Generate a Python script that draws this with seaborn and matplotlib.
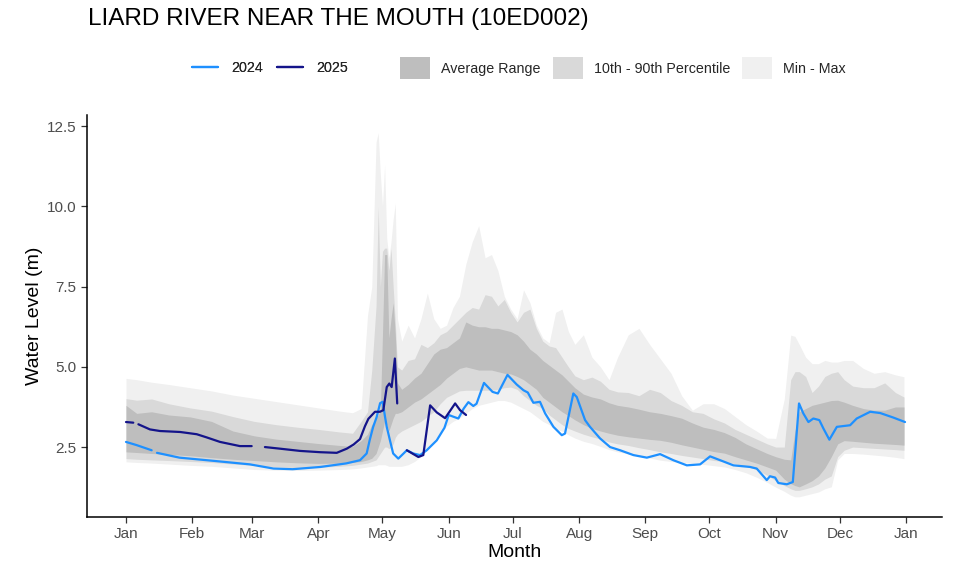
import numpy as np
import pandas as pd
import seaborn as sns
import matplotlib
matplotlib.use("Agg")
import matplotlib.pyplot as plt
from matplotlib.lines import Line2D
from matplotlib.patches import Patch

nan = np.nan

# historical bands (day of year, metres)
band_days = [0, 5, 12, 20, 30, 40, 50, 60, 70, 80, 90, 100, 106,
             110, 113, 115, 117, 118, 119, 120, 121, 122, 123, 124, 125, 126, 127,
             129, 132, 135, 138, 141, 144, 147, 150, 153, 156, 159, 162, 165, 168,
             171, 174, 177, 180, 183, 186, 189, 192, 195,
             198, 201, 204, 207, 210, 214, 218, 222, 226, 230,
             235, 240, 245, 250, 255, 260, 265, 270, 275, 280, 285, 290, 295, 300,
             304, 308, 311, 313, 315, 318, 321, 324, 327, 330, 333, 336,
             340, 345, 350, 355, 360, 364]

band_max = [4.64, 4.60, 4.52, 4.45, 4.35, 4.25, 4.12, 4.02, 3.92, 3.82, 3.72, 3.62, 3.57,
            3.70, 6.60, 7.50, 12.00, 12.30, 11.00, 10.00, 11.30, 9.00, 8.40, 8.90, 9.60, 10.10, 6.50,
            5.8, 6.3, 5.9, 6.5, 7.3, 6.5, 6.2, 6.3, 6.85, 7.2, 8.2, 8.9, 9.4, 8.4,
            8.5, 8.0, 7.2, 6.8, 6.5, 7.4, 7.0, 6.3, 5.9,
            5.75, 6.7, 6.8, 6.1, 5.7, 6.0, 5.3, 5.0, 4.6, 5.3,
            6.0, 6.2, 5.7, 5.25, 4.8, 4.1, 3.65, 3.85, 3.85, 3.7, 3.45, 3.2, 3.0, 2.78,
            2.77, 4.0, 5.99, 5.95, 5.7, 5.3, 5.1, 5.1, 5.2, 5.15, 5.15, 5.2,
            5.2, 4.95, 4.8, 4.85, 4.75, 4.69]

band_p90 = [4.01, 3.96, 4.00, 3.85, 3.72, 3.62, 3.45, 3.30, 3.20, 3.12, 3.05, 2.97, 2.93,
            3.30, 3.60, 4.90, 6.90, 10.00, 7.50, 8.60, 8.70, 8.70, 8.00, 8.70, 7.50, 6.40, 5.00,
            4.9, 5.2, 5.25, 5.7, 5.6, 5.75, 6.0, 6.1, 6.3, 6.5, 6.7, 6.85, 6.8, 7.25,
            7.2, 6.9, 7.1, 6.7, 6.4, 6.7, 6.8, 6.2, 5.8,
            5.65, 5.6, 5.3, 5.0, 4.72, 4.6, 4.68, 4.55, 4.3, 4.22,
            4.2, 4.1, 4.3, 4.2, 3.95, 3.8, 3.6, 3.55, 3.38, 3.25, 3.05, 2.9, 2.75, 2.6,
            2.5, 2.5, 4.6, 4.85, 4.85, 4.7, 4.2, 4.4, 4.7, 4.8, 4.85, 4.6,
            4.4, 4.35, 4.35, 4.5, 4.2, 4.06]

band_p75 = [3.80, 3.55, 3.60, 3.50, 3.44, 3.30, 3.00, 2.85, 2.75, 2.68, 2.61, 2.55, 2.52,
            2.70, 2.90, 3.20, 3.40, 3.50, 3.65, 6.00, 8.50, 8.50, 5.90, 6.50, 7.00, 6.00, 4.50,
            4.3, 4.45, 4.65, 4.8, 5.1, 5.4, 5.55, 5.6, 5.75, 5.9, 6.4, 6.3, 6.25, 6.25,
            6.2, 6.2, 6.15, 6.1, 6.0, 5.8, 5.55, 5.4, 5.2,
            5.05, 4.9, 4.75, 4.55, 4.35, 4.15, 4.06, 4.0, 3.88, 3.8,
            3.75, 3.68, 3.6, 3.55, 3.48, 3.4, 3.25, 3.12, 3.05, 2.95, 2.8, 2.6, 2.45, 2.3,
            2.2, 2.12, 2.1, 3.0, 3.6, 3.7, 3.8, 3.85, 3.9, 3.95, 3.96, 3.9,
            3.8, 3.7, 3.65, 3.65, 3.75, 3.75]

band_p25 = [2.35, 2.33, 2.30, 2.27, 2.23, 2.17, 2.12, 2.08, 2.04, 2.01, 1.99, 2.00, 2.02,
            2.05, 2.10, 2.15, 2.30, 2.50, 2.70, 3.00, 3.30, 3.20, 3.00, 3.20, 3.40, 3.55, 3.55,
            3.6, 3.75, 3.9, 4.0, 4.15, 4.3, 4.45, 4.65, 4.8, 4.95, 5.0, 4.95, 4.9, 4.9,
            4.9, 4.85, 4.8, 4.78, 4.7, 4.6, 4.45, 4.3, 4.05,
            3.9, 3.75, 3.6, 3.48, 3.35, 3.2, 3.08, 3.0, 2.93, 2.87,
            2.82, 2.78, 2.74, 2.71, 2.65, 2.57, 2.5, 2.43, 2.36, 2.31, 2.2, 2.1, 2.0, 1.88,
            1.78, 1.5, 1.36, 1.3, 1.26, 1.35, 1.45, 1.6, 1.85, 2.2, 2.6, 2.7,
            2.68, 2.65, 2.62, 2.6, 2.58, 2.56]

band_p10 = [2.14, 2.12, 2.10, 2.08, 2.05, 2.02, 1.97, 1.93, 1.88, 1.86, 1.87, 1.90, 1.93,
            1.97, 2.00, 2.05, 2.10, 2.20, 2.30, 2.40, 2.50, 2.50, 2.45, 2.50, 2.60, 2.80, 2.90,
            3.0, 3.1, 3.2, 3.3, 3.45, 3.6, 3.85, 4.05, 4.15, 4.25, 4.27, 4.27, 4.27, 4.27,
            4.27, 4.3, 4.35, 4.37, 4.3, 4.1, 3.95, 3.8, 3.7,
            3.5, 3.35, 3.2, 3.08, 3.0, 2.9, 2.82, 2.75, 2.66, 2.6,
            2.55, 2.48, 2.42, 2.35, 2.3, 2.24, 2.19, 2.14, 2.08, 2.05, 1.98, 1.9, 1.8, 1.62,
            1.45, 1.3, 1.2, 1.15, 1.15, 1.2, 1.26, 1.35, 1.5, 1.6, 2.2, 2.4,
            2.5, 2.48, 2.46, 2.44, 2.42, 2.40]

band_min = [2.04, 2.02, 2.00, 1.97, 1.93, 1.90, 1.85, 1.80, 1.78, 1.77, 1.78, 1.80, 1.82,
            1.85, 1.88, 1.90, 1.92, 1.95, 1.95, 1.95, 1.95, 1.93, 1.90, 1.90, 1.90, 1.90, 1.90,
            1.9, 1.95, 2.05, 2.2, 2.45, 2.7, 2.95, 3.15, 3.3, 3.4, 3.55, 3.7, 3.8, 3.85,
            3.9, 3.95, 3.95, 3.9, 3.8, 3.7, 3.6, 3.45, 3.3,
            3.2, 3.05, 3.0, 2.88, 2.78, 2.68, 2.61, 2.52, 2.42, 2.35,
            2.29, 2.22, 2.16, 2.09, 2.05, 2.02, 1.99, 1.96, 1.92, 1.88, 1.8, 1.7, 1.56, 1.4,
            1.25, 1.12, 1.0, 0.95, 0.95, 1.0, 1.05, 1.1, 1.2, 1.26, 2.1, 2.3,
            2.3, 2.28, 2.25, 2.22, 2.18, 2.14]

# 2024 and 2025 water level
days_2024 = [0, 5, 12, 13, 14.5, 25, 41, 58, 69, 78, 91, 103, 109.5, 112.6, 114, 115.6,
             117.3, 118.9, 120.1, 121.2, 122, 123.5, 125, 127.4, 131.4, 134.4, 137.6,
             140.7, 145.4, 149, 151, 153, 155.5, 158, 160.2, 162.5, 164, 167.5, 171.5,
             174, 178.5, 182.8, 186, 188, 190.6, 193.7, 196.1, 200, 203.9, 205.4, 209.3,
             210.9, 214.8, 217.1, 221.8, 226.5, 231.2, 237.4, 243.7, 249.9, 256.1, 262.4,
             268.6, 273.3, 278, 284.2, 292, 295.1, 299.8, 301.3, 303.7, 305.2, 309.2, 312,
             314.9, 316.9, 319.3, 321.6, 324.4, 326.3, 329.1, 332.6, 338.8, 341.9, 348.2,
             352.9, 359, 364.5]
level_2024 = [2.66, 2.56, 2.40, nan, 2.32, 2.17, 2.07, 1.96, 1.83, 1.81, 1.88, 1.99, 2.09,
              2.30, 2.71, 3.12, 3.44, 3.87, 3.91, 3.44, 3.13, 2.71, 2.30, 2.14, 2.40, 2.30,
              2.25, 2.40, 2.71, 3.10, 3.50, 3.45, 3.39, 3.70, 3.90, 3.78, 3.85, 4.50, 4.22,
              4.17, 4.75, 4.45, 4.27, 4.20, 3.88, 3.91, 3.55, 3.13, 2.87, 2.92, 4.17, 4.06,
              3.34, 3.13, 2.77, 2.50, 2.40, 2.25, 2.17, 2.28, 2.09, 1.93, 1.96, 2.21, 2.09,
              1.93, 1.88, 1.83, 1.47, 1.59, 1.55, 1.38, 1.34, 1.41, 3.86, 3.55, 3.28, 3.39,
              3.34, 3.08, 2.73, 3.13, 3.18, 3.39, 3.60, 3.56, 3.42, 3.28]

days_2025 = [0, 3.4, 4.5, 5.8, 11.2, 15.9, 25.3, 33.1, 37.8, 44, 53.3, 58.8, 62, 65, 72,
             81.4, 90.8, 98.6, 103.3, 106.5, 109.5, 111.8, 113.4, 116.5, 118.8, 120.4, 122,
             123.2, 124.3, 125.8, 126.9, 129, 131.4, 136.8, 139.1, 142.3, 145.4, 149.3,
             154, 156.3, 159.1]
level_2025 = [3.28, 3.26, nan, 3.21, 3.05, 3.00, 2.97, 2.90, 2.80, 2.66, 2.53, 2.53, nan,
              2.50, 2.45, 2.38, 2.34, 2.32, 2.45, 2.58, 2.75, 3.15, 3.38, 3.60, 3.60, 3.65,
              4.37, 4.48, 4.37, 5.26, 3.86, nan, 2.40, 2.19, 2.25, 3.80, 3.58, 3.40, 3.86,
              3.65, 3.50]

month_days = [0, 31, 59, 90, 120, 151, 181, 212, 243, 273, 304, 334, 365]
month_labels = ["Jan", "Feb", "Mar", "Apr", "May", "Jun", "Jul", "Aug", "Sep", "Oct",
                "Nov", "Dec", "Jan"]

col_2024 = "#1E90FF"
col_2025 = "#14148A"
col_avg = "#BEBEBE"
col_p10 = "#D9D9D9"
col_mm = "#F0F0F0"


def segments(days, vals, name):
    df = pd.DataFrame({"day": days, "level": vals})
    df["seg"] = df["level"].isna().cumsum()
    df = df.dropna()
    df["year"] = name
    return df


sns.set_theme(style="white")
plt.rcParams["font.family"] = ["Liberation Sans", "DejaVu Sans"]

fig = plt.figure(figsize=(9.6, 5.79), dpi=100)
ax = fig.add_axes([87 / 960, 1 - 517 / 579, 855 / 960, 402 / 579])

ax.fill_between(band_days, band_min, band_max, color=col_mm, linewidth=0)
ax.fill_between(band_days, band_p10, band_p90, color=col_p10, linewidth=0)
ax.fill_between(band_days, band_p25, band_p75, color=col_avg, linewidth=0)

d24 = segments(days_2024, level_2024, "2024")
d25 = segments(days_2025, level_2025, "2025")
sns.lineplot(data=d24, x="day", y="level", units="seg", estimator=None, sort=False,
             color=col_2024, linewidth=1.6, ax=ax)
sns.lineplot(data=d25, x="day", y="level", units="seg", estimator=None, sort=False,
             color=col_2025, linewidth=1.6, ax=ax)

ax.set_xlim(-18.25, 381.8)
ax.set_ylim(0.32, 12.85)
ax.set_xticks(month_days)
ax.set_xticklabels(month_labels)
ax.set_yticks([2.5, 5.0, 7.5, 10.0, 12.5])
ax.set_yticklabels(["2.5", "5.0", "7.5", "10.0", "12.5"])
ax.tick_params(axis="both", labelsize=11, labelcolor="#4D4D4D", color="#333333",
               length=4.5, width=0.9, pad=3, bottom=True, left=True)
for side in ["top", "right"]:
    ax.spines[side].set_visible(False)
for side in ["left", "bottom"]:
    ax.spines[side].set_color("black")
    ax.spines[side].set_linewidth(1.1)

ax.set_xlabel("Month", fontsize=14, color="black", labelpad=2)
ax.set_ylabel("Water Level (m)", fontsize=14, color="black", labelpad=2.5)

fig.text(88 / 960, 1 - 18.5 / 579, "LIARD RIVER NEAR THE MOUTH (10ED002)",
         fontsize=17.5, ha="left", va="center", color="black")

line_handles = [Line2D([0], [0], color=col_2024, lw=1.6),
                Line2D([0], [0], color=col_2025, lw=1.6)]
leg1 = fig.legend(handles=line_handles, labels=["2024", "2025"], loc="center",
                  bbox_to_anchor=(270 / 960, 1 - 68 / 579), ncol=2, frameon=False,
                  fontsize=10.3, handlelength=1.8, handletextpad=0.95, columnspacing=1.0)

fill_handles = [Patch(facecolor=col_avg, edgecolor="none"),
                Patch(facecolor=col_p10, edgecolor="none"),
                Patch(facecolor=col_mm, edgecolor="none")]
leg2 = fig.legend(handles=fill_handles,
                  labels=["Average Range", "10th - 90th Percentile", "Min - Max"],
                  loc="center", bbox_to_anchor=(623 / 960, 1 - 68 / 579), ncol=3,
                  frameon=False, fontsize=10.3, handlelength=2.1, handleheight=2.0,
                  handletextpad=0.75, columnspacing=0.85)
fig.add_artist(leg1)

fig.savefig("out.png", dpi=100)
